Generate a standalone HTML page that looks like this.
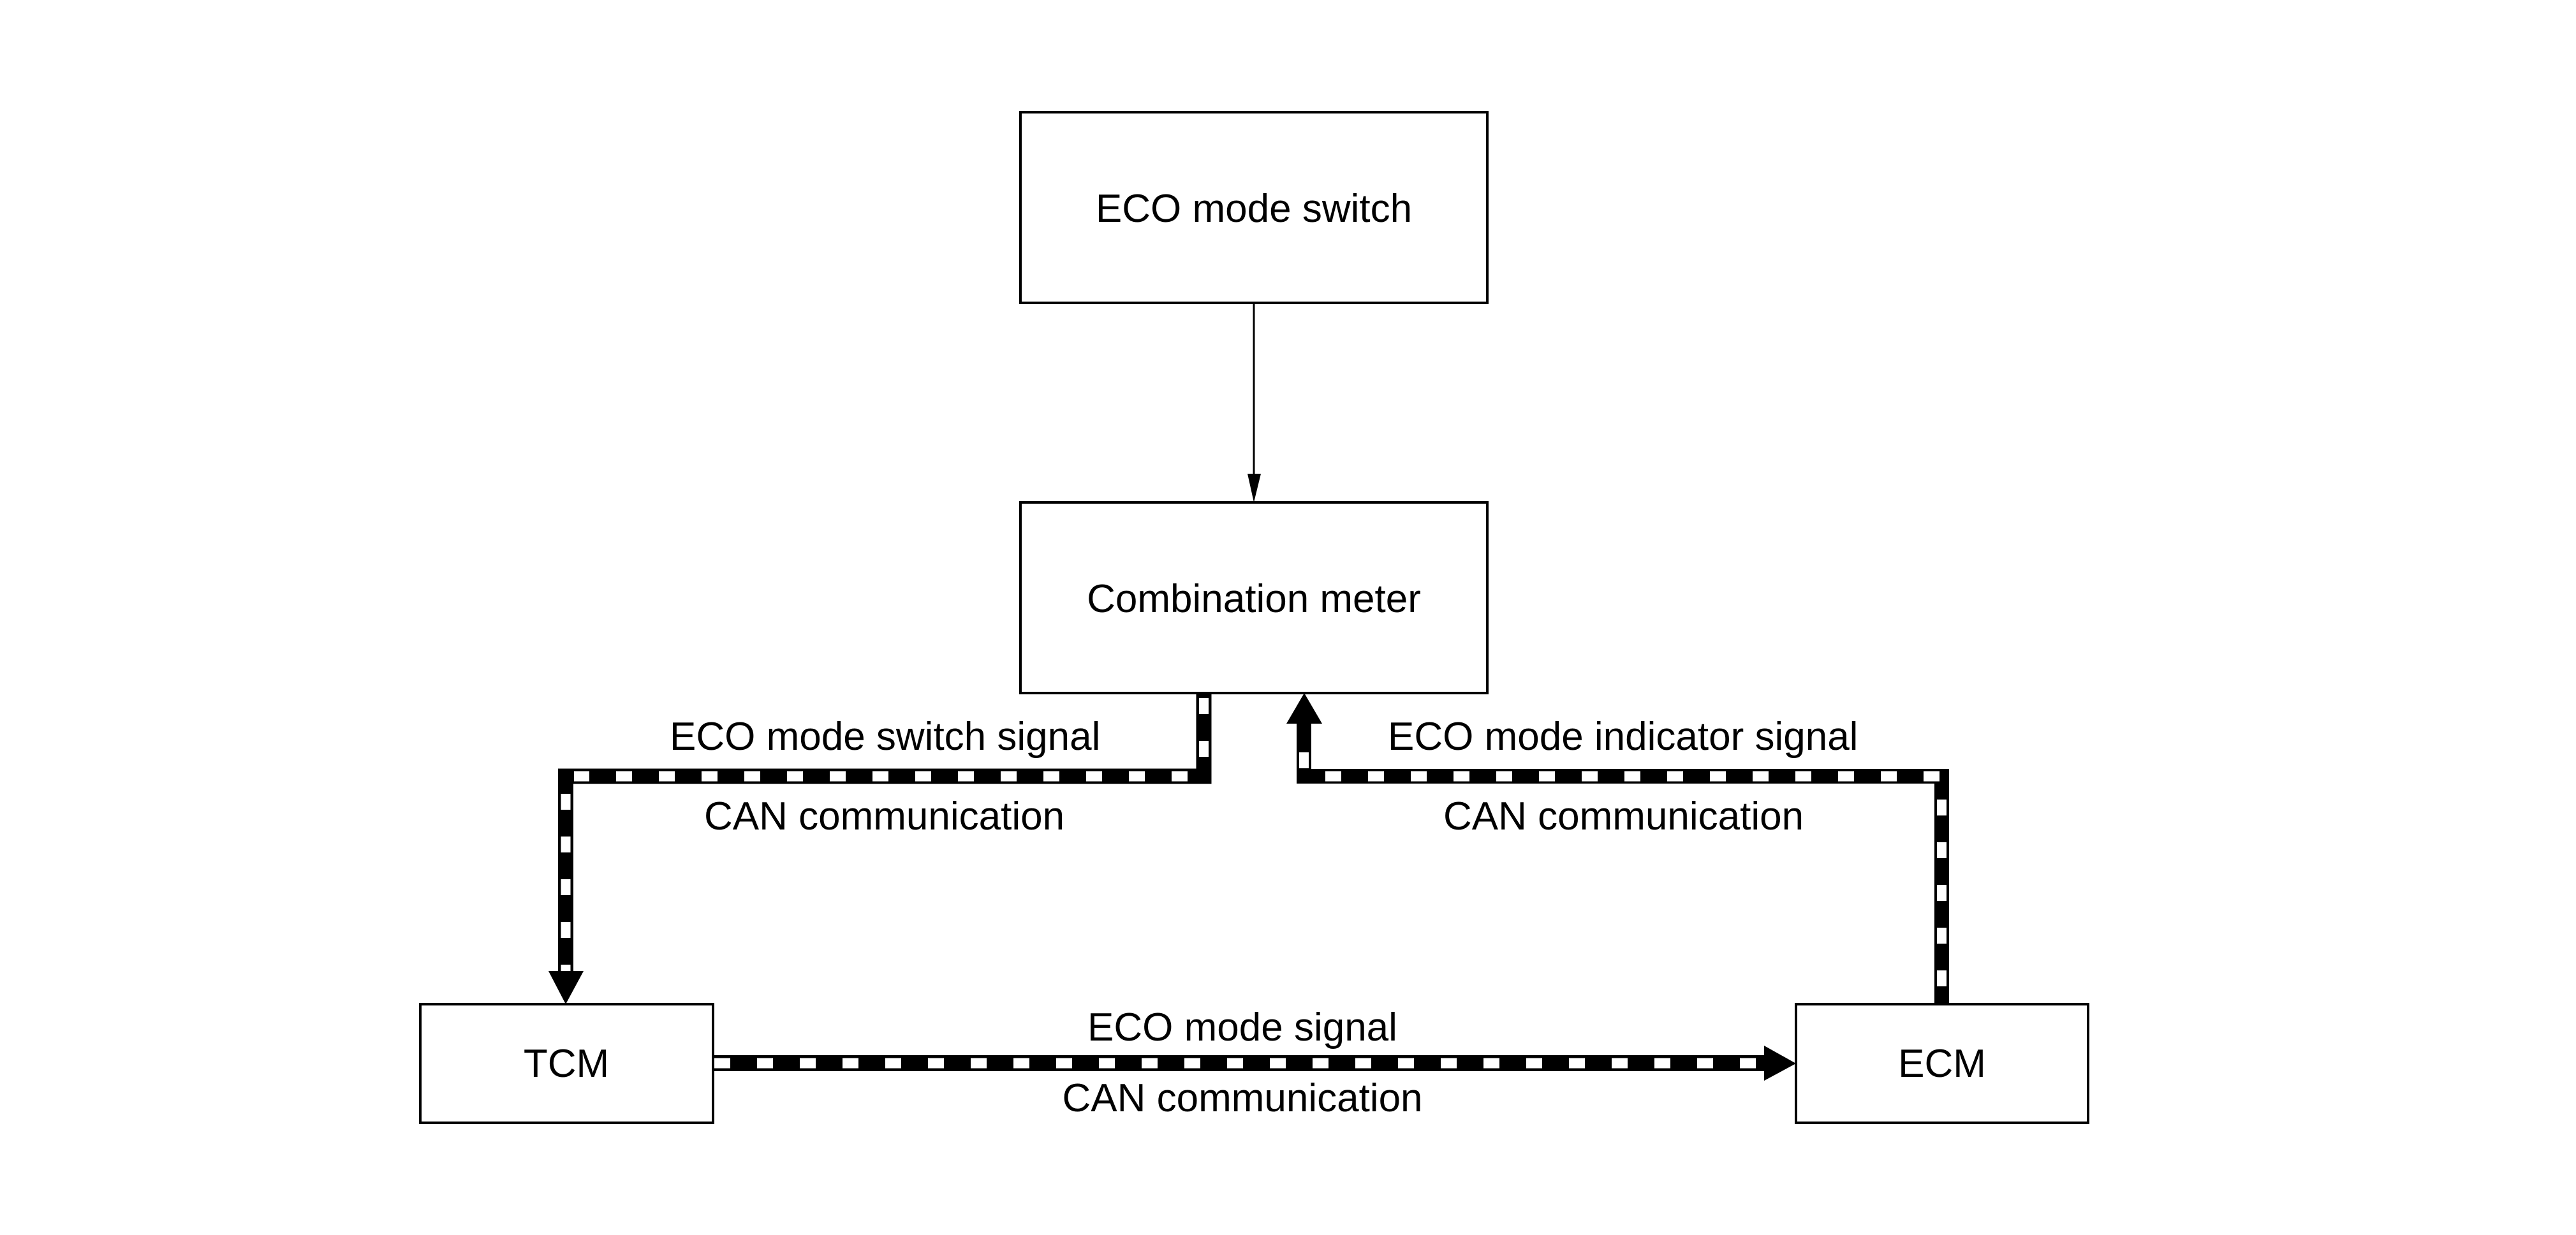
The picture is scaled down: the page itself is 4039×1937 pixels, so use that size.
<!DOCTYPE html>
<html><head><meta charset="utf-8"><style>
html,body{margin:0;padding:0;background:#fff;}
svg{display:block;}
text{font-family:"Liberation Sans",Arial,sans-serif;font-size:62px;fill:#000;}
</style></head><body>
<svg width="4039" height="1937" viewBox="0 0 4039 1937" xmlns="http://www.w3.org/2000/svg">
<rect x="0" y="0" width="4039" height="1937" fill="#fff"/>
<g fill="none" stroke="#000" stroke-width="4">
<rect x="1600" y="176" width="732" height="299"/>
<rect x="1600" y="788" width="732" height="299"/>
<rect x="659" y="1575" width="459" height="186"/>
<rect x="2816" y="1575" width="458" height="186"/>
</g>
<line x1="1966" y1="475" x2="1966" y2="748" stroke="#000" stroke-width="3"/>
<polygon points="1956,743 1977,743 1966,788" fill="#000"/>

<path d="M1887.5,1087 V1217.5 H887 V1525" fill="none" stroke="#000" stroke-width="24" stroke-linejoin="miter"/>
<path d="M1887.5,1095 V1217.5" fill="none" stroke="#fff" stroke-width="15" stroke-dasharray="25 42"/>
<path d="M1862,1217.5 H900" fill="none" stroke="#fff" stroke-width="16" stroke-dasharray="25 42"/>
<path d="M887,1245 V1525" fill="none" stroke="#fff" stroke-width="15" stroke-dasharray="25 42"/>
<polygon points="860,1523 915,1523 887,1575" fill="#000"/>

<path d="M3044.5,1575 V1217.5 H2044.5 V1130" fill="none" stroke="#000" stroke-width="23" stroke-linejoin="miter"/>
<path d="M3044.5,1547 V1250" fill="none" stroke="#fff" stroke-width="15" stroke-dasharray="25 42"/>
<path d="M3041,1217.5 H2060" fill="none" stroke="#fff" stroke-width="16" stroke-dasharray="25 42"/>
<path d="M2044.5,1205 V1140" fill="none" stroke="#fff" stroke-width="15" stroke-dasharray="25 42"/>
<polygon points="2017,1135 2073,1135 2045,1087" fill="#000"/>

<path d="M1118,1667.5 H2770" fill="none" stroke="#000" stroke-width="25"/>
<path d="M1120,1667.5 H2760" fill="none" stroke="#fff" stroke-width="16" stroke-dasharray="25 42"/>
<polygon points="2766,1640 2816,1668 2766,1695" fill="#000"/>

<text x="1966" y="348" text-anchor="middle">ECO mode switch</text>
<text x="1966" y="960" text-anchor="middle">Combination meter</text>
<text x="1050" y="1176">ECO mode switch signal</text>
<text x="1104" y="1301">CAN communication</text>
<text x="2176" y="1176">ECO mode indicator signal</text>
<text x="2263" y="1301">CAN communication</text>
<text x="1948" y="1632" text-anchor="middle">ECO mode signal</text>
<text x="1948" y="1743" text-anchor="middle">CAN communication</text>
<text x="888" y="1689" text-anchor="middle">TCM</text>
<text x="3045" y="1689" text-anchor="middle">ECM</text>
</svg>
</body></html>
